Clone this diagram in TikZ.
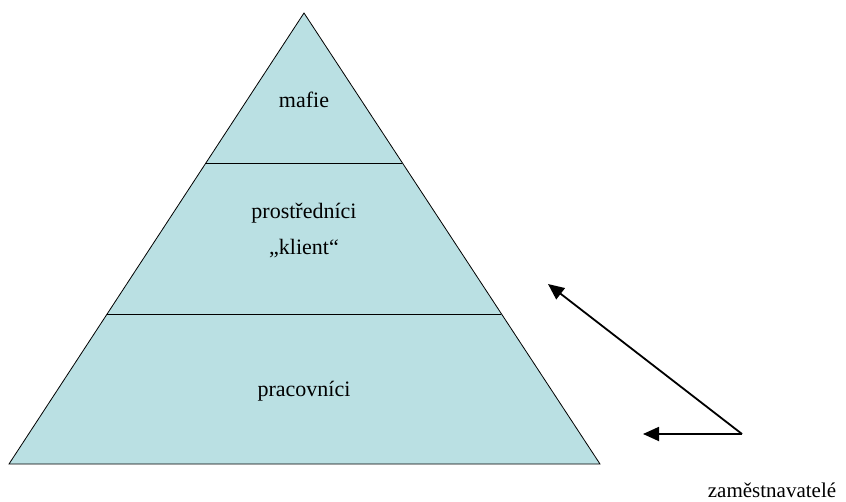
\documentclass[tikz,border=0pt]{standalone}
\usepackage{fontspec}
\setmainfont{Liberation Serif}
\usetikzlibrary{arrows.meta}

\definecolor{pyrfill}{RGB}{186,224,227}
\tikzset{
    lbl/.style={font=\fontsize{22}{26}\selectfont, inner sep=0pt},
    arr/.style={line width=1.8pt, -{Triangle[length=16pt,width=14pt]}}
}

\begin{document}
\begin{tikzpicture}[x=1pt, y=-1pt]
            \useasboundingbox (0, 0) rectangle (846, 501);
            % pyramid with its three layers
            \coordinate (top) at (304, 13);
            \coordinate (bl) at (9, 464);
            \coordinate (br) at (600, 464);
            \fill[pyrfill] (top) -- (br) -- (bl) -- cycle;
            \draw[line width=0.8pt] (top) -- (br) -- (bl) -- cycle;
            \draw[line width=0.8pt] (206, 163) -- (402, 163);
            \draw[line width=0.8pt] (107, 314) -- (501, 314);
            \node[lbl] (mafie) at (304, 100) {mafie};
            \node[lbl] (prost) at (304, 213) {prostředníci};
            \node[lbl] (klient) at (304, 249) {„klient“};
            \node[lbl] (prac) at (304, 391) {pracovníci};
            % employers pointing at the lower layers
            \node[lbl, font=\fontsize{21}{25}\selectfont] (zam) at (772, 490) {zaměstnavatelé};
            \coordinate (src) at (742, 434);
            \coordinate (tipup) at (548, 284);
            \coordinate (tipleft) at (643, 434);
            \draw[arr] (src) -- (tipup);
            \draw[arr] (src) -- (tipleft);
        \end{tikzpicture}
\end{document}
